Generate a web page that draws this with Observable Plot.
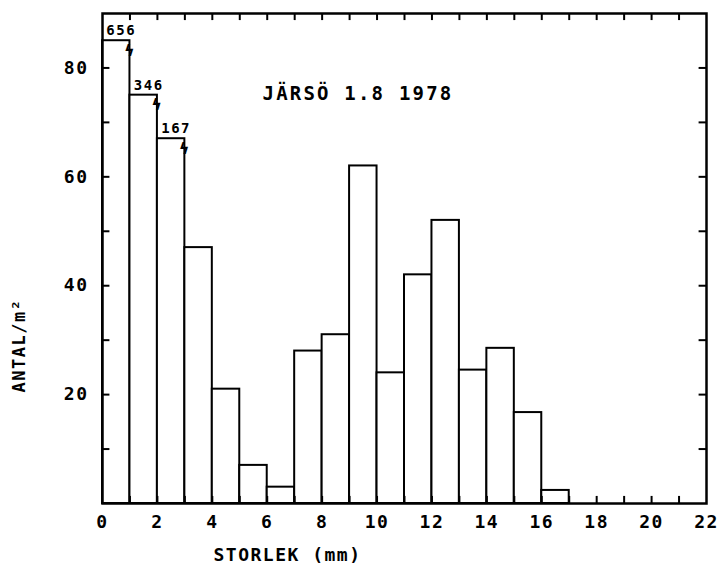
<!DOCTYPE html>
<html>
<head>
<meta charset="utf-8">
<script src="https://cdn.jsdelivr.net/npm/d3@7"></script>
<script src="https://cdn.jsdelivr.net/npm/@observablehq/plot@0.6"></script>
<style>
  body { margin: 0; background: #fff; }
</style>
</head>
<body>
<div id="chart"></div>
<script>
// Size classes (mm)
const binLow  = [0, 1, 2, 3, 4, 5, 6, 7, 8, 9, 10, 11, 12, 13, 14, 15, 16];
const binHigh = [1, 2, 3, 4, 5, 6, 7, 8, 9, 10, 11, 12, 13, 14, 15, 16, 17];
// Individuals per m²
const density = [656, 346, 167, 47, 21, 7, 3, 28, 31, 62, 24, 42, 52, 24.5, 28.5, 16.7, 2.4];
// Drawn (truncated) top of the bars that run off the scale
const brokenTop = [85, 75, 67];

const xTickLabels = [0, 2, 4, 6, 8, 10, 12, 14, 16, 18, 20, 22];
const xTickMarks  = [1, 2, 3, 4, 5, 6, 7, 8, 9, 10, 11, 12, 13, 14, 15, 16, 17, 18, 19, 20, 21];
const yTickLabels = [20, 40, 60, 80];
const yTickMarks  = [10, 20, 30, 40, 50, 60, 70, 80];

const title  = "JÄRSÖ 1.8 1978";
const xTitle = "STORLEK (mm)";
const yTitle = "ANTAL/m²";

const bars = density.map((v, i) => ({
  x1: binLow[i],
  x2: binHigh[i],
  value: v,
  shown: i < brokenTop.length ? brokenTop[i] : v,
  broken: i < brokenTop.length
}));
const broken = bars.filter(d => d.broken);

const FONT = "'DejaVu Sans Mono', monospace";

const chart = Plot.plot({
  width: 722,
  height: 578,
  marginLeft: 102,
  marginRight: 16,
  marginTop: 13,
  marginBottom: 75,
  x: {domain: [0, 22]},
  y: {domain: [0, 90]},
  style: {fontFamily: FONT, fontSize: "18px", fontWeight: "bold", color: "#000", background: "#fff", letterSpacing: "1.5px"},
  marks: [
    Plot.rectY(bars, {x1: "x1", x2: "x2", y: "shown", fill: "white", stroke: "black", strokeWidth: 2}),
    // inward ticks
    Plot.ruleX(xTickMarks, {x: d => d, y1: 0, y2: 1.3, stroke: "black", strokeWidth: 2}),
    Plot.ruleX(xTickMarks, {x: d => d, y1: 88.7, y2: 90, stroke: "black", strokeWidth: 2}),
    Plot.ruleY(yTickMarks, {y: d => d, x1: 0, x2: 0.27, stroke: "black", strokeWidth: 2}),
    Plot.ruleY(yTickMarks, {y: d => d, x1: 21.73, x2: 22, stroke: "black", strokeWidth: 2}),
    Plot.axisX({ticks: xTickLabels, tickSize: 0, tickPadding: 12, label: null}),
    Plot.axisY({ticks: yTickLabels, tickSize: 0, tickPadding: 14, label: null}),
    Plot.frame({stroke: "black", strokeWidth: 2.5}),
    // values of truncated bars
    Plot.text(broken, {x: d => (d.x1 + d.x2) / 2, y: "shown", text: d => String(d.value), dy: -10, dx: 5, fontSize: 14}),
    // break symbols
    Plot.text(broken, {x: "x2", y: "shown", text: () => "ϟ", dy: 10, fontSize: 16}),
    // titles
    Plot.text([title], {frameAnchor: "top-left", text: d => d, dx: 160, dy: 73, textAnchor: "start", fontSize: 19}),
    Plot.text([xTitle], {frameAnchor: "bottom-left", text: d => d, dx: 111, dy: 57, textAnchor: "start", fontSize: 18}),
    Plot.text([yTitle], {frameAnchor: "left", text: d => d, dx: -83, dy: 87, rotate: -90, textAnchor: "middle", fontSize: 17})
  ]
});

d3.select(chart).selectAll("text")
  .filter(function() { return this.textContent === title; })
  .style("letter-spacing", "2.2px");

document.getElementById("chart").appendChild(chart);
</script>
</body>
</html>
